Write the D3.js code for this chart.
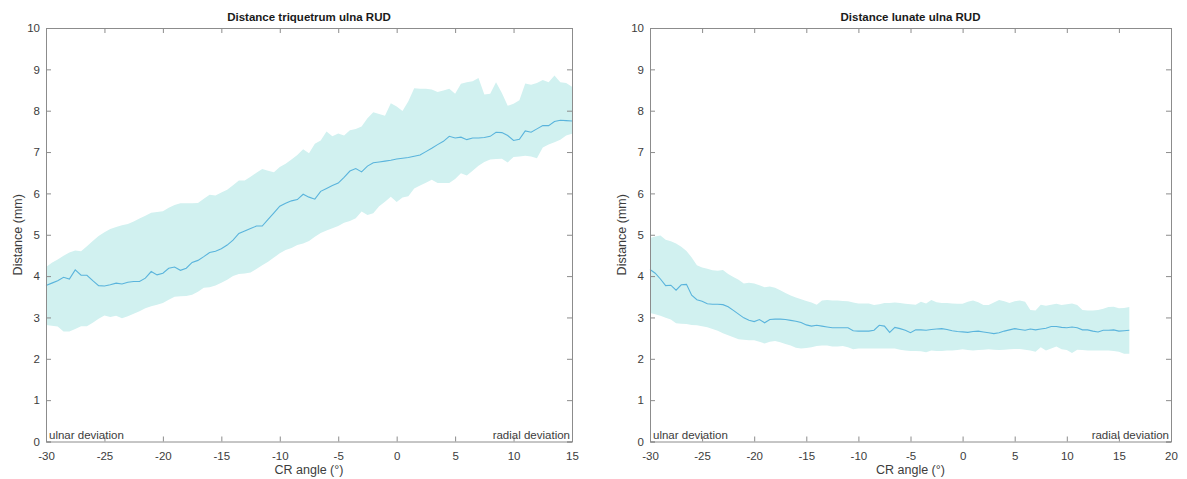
<!DOCTYPE html>
<html>
<head>
<meta charset="utf-8">
<script src="https://cdn.jsdelivr.net/npm/d3@7"></script>
<style>
  body { margin: 0; background: #fff; }
  svg { display: block; font-family: "Liberation Sans", Arial, sans-serif; }
</style>
</head>
<body>
<div id="content"></div>
<script>
// sample grid, 0.5 deg steps
const anglesLeft = d3.range(-30, 15.001, 0.5);
const anglesRight = d3.range(-30, 16.001, 0.5);

// Distance triquetrum ulna RUD (mm)
const triMean = [3.77,3.83,3.89,3.97,3.93,4.15,4.02,4.02,3.89,3.77,3.76,3.79,3.83,3.81,3.85,3.87,3.87,3.95,4.11,4.03,
  4.07,4.19,4.22,4.14,4.19,4.33,4.38,4.47,4.57,4.60,4.66,4.75,4.87,5.03,5.09,5.15,5.21,5.21,5.37,5.53,
  5.69,5.76,5.82,5.85,5.98,5.91,5.86,6.05,6.12,6.19,6.25,6.39,6.54,6.60,6.52,6.66,6.74,6.76,6.78,6.80,
  6.83,6.85,6.87,6.90,6.93,7.01,7.09,7.18,7.26,7.38,7.34,7.36,7.30,7.34,7.34,7.35,7.38,7.48,7.47,7.40,
  7.28,7.31,7.51,7.48,7.56,7.64,7.64,7.74,7.77,7.76,7.75];
const triUpper = [4.22,4.32,4.40,4.49,4.57,4.62,4.60,4.72,4.85,4.97,5.06,5.14,5.19,5.23,5.26,5.32,5.39,5.46,5.53,5.55,
  5.57,5.65,5.72,5.76,5.76,5.76,5.77,5.87,5.97,5.95,6.02,6.09,6.20,6.31,6.31,6.40,6.50,6.59,6.55,6.51,
  6.64,6.72,6.82,6.93,7.07,6.97,7.20,7.28,7.50,7.38,7.45,7.40,7.53,7.56,7.62,7.82,7.96,7.92,7.88,8.18,
  8.10,7.99,8.23,8.54,8.53,8.53,8.51,8.45,8.49,8.53,8.41,8.65,8.69,8.71,8.79,8.39,8.41,8.69,8.43,8.12,
  8.17,8.25,8.66,8.63,8.67,8.74,8.69,8.85,8.69,8.67,8.58];
const triLower = [2.82,2.80,2.78,2.66,2.66,2.72,2.79,2.79,2.87,2.97,3.05,3.01,3.04,2.98,3.03,3.09,3.15,3.22,3.27,3.31,
  3.35,3.43,3.50,3.51,3.52,3.55,3.62,3.72,3.73,3.77,3.84,3.91,4.00,4.05,4.06,4.09,4.17,4.26,4.35,4.45,
  4.55,4.63,4.68,4.75,4.79,4.85,4.95,5.04,5.10,5.16,5.21,5.29,5.33,5.40,5.56,5.48,5.52,5.69,5.80,5.92,
  5.79,5.90,5.93,6.12,6.19,6.26,6.33,6.25,6.25,6.25,6.35,6.49,6.43,6.55,6.67,6.76,6.82,6.83,6.84,6.75,
  6.88,6.89,6.91,6.89,6.85,7.11,7.18,7.24,7.30,7.40,7.44];

// Distance lunate ulna RUD (mm)
const lunMean = [4.16,4.07,3.93,3.77,3.78,3.66,3.79,3.80,3.54,3.43,3.39,3.33,3.32,3.32,3.31,3.26,3.17,3.08,2.99,2.93,
  2.90,2.95,2.87,2.95,2.96,2.96,2.95,2.93,2.91,2.88,2.82,2.79,2.81,2.79,2.77,2.75,2.75,2.75,2.75,2.68,
  2.67,2.67,2.67,2.69,2.81,2.79,2.64,2.76,2.73,2.69,2.63,2.70,2.70,2.69,2.71,2.72,2.73,2.71,2.68,2.66,
  2.65,2.64,2.66,2.67,2.65,2.63,2.61,2.63,2.67,2.70,2.73,2.71,2.69,2.72,2.70,2.72,2.74,2.78,2.78,2.76,
  2.75,2.77,2.75,2.70,2.70,2.67,2.65,2.69,2.69,2.70,2.67,2.68,2.69];
const lunUpper = [4.92,4.96,4.98,4.88,4.84,4.79,4.71,4.61,4.45,4.26,4.21,4.18,4.14,4.13,4.15,4.05,3.98,3.91,3.82,3.84,
  3.82,3.78,3.73,3.75,3.72,3.66,3.59,3.53,3.48,3.44,3.40,3.36,3.31,3.41,3.42,3.41,3.41,3.40,3.39,3.36,
  3.34,3.34,3.34,3.30,3.32,3.35,3.35,3.36,3.35,3.33,3.32,3.31,3.38,3.34,3.42,3.37,3.35,3.35,3.34,3.33,
  3.33,3.38,3.41,3.37,3.30,3.30,3.36,3.42,3.39,3.35,3.39,3.41,3.38,3.18,3.17,3.31,3.28,3.31,3.33,3.30,
  3.32,3.34,3.30,3.18,3.17,3.17,3.18,3.21,3.25,3.26,3.22,3.23,3.25];
const lunLower = [3.11,3.08,3.04,2.99,2.95,2.86,2.85,2.84,2.82,2.81,2.79,2.76,2.72,2.68,2.62,2.57,2.52,2.47,2.46,2.45,
  2.45,2.41,2.37,2.41,2.43,2.40,2.36,2.32,2.27,2.25,2.26,2.28,2.31,2.32,2.32,2.30,2.30,2.31,2.28,2.23,
  2.25,2.25,2.25,2.25,2.25,2.25,2.25,2.25,2.22,2.20,2.19,2.19,2.18,2.16,2.20,2.19,2.19,2.20,2.20,2.21,
  2.23,2.21,2.20,2.21,2.22,2.23,2.22,2.21,2.22,2.23,2.24,2.24,2.22,2.20,2.17,2.28,2.20,2.25,2.30,2.23,
  2.21,2.14,2.22,2.21,2.20,2.20,2.20,2.20,2.20,2.19,2.17,2.12,2.12];

const xTicksLeft = [-30,-25,-20,-15,-10,-5,0,5,10,15];
const xTicksRight = [-30,-25,-20,-15,-10,-5,0,5,10,15,20];
const yTicks = [0,1,2,3,4,5,6,7,8,9,10];

const svg = d3.select("#content").append("svg")
  .attr("width", 1187).attr("height", 479);

function drawPanel(cfg){
  const x = d3.scaleLinear().domain(cfg.xDomain).range([cfg.left, cfg.right]);
  const y = d3.scaleLinear().domain([0, 10]).range([441.5, 28]);
  const g = svg.append("g");

  const rows = cfg.angles.map((a, i) => ({a: a, m: cfg.mean[i], lo: cfg.lower[i], hi: cfg.upper[i]}));

  g.append("path")
    .datum(rows)
    .attr("fill", "#d1f1f0")
    .attr("d", d3.area().x(d => x(d.a)).y0(d => y(d.lo)).y1(d => y(d.hi)));

  g.append("path")
    .datum(rows)
    .attr("fill", "none")
    .attr("stroke", "#5ab4dc")
    .attr("stroke-width", 1.1)
    .attr("d", d3.line().x(d => x(d.a)).y(d => y(d.m)));

  const axisColor = "#8c8c8c";
  const tk = 5;
  const minusFmt = d => d < 0 ? "-" + Math.abs(d) : String(d);
  const axes = [
    d3.axisBottom(x).tickValues(cfg.xTicks).tickSize(-tk).tickFormat(minusFmt).tickPadding(10),
    d3.axisTop(x).tickValues(cfg.xTicks).tickSize(-tk).tickFormat(""),
    d3.axisLeft(y).tickValues(yTicks).tickSize(-tk).tickFormat(minusFmt).tickPadding(6),
    d3.axisRight(y).tickValues(yTicks).tickSize(-tk).tickFormat("")
  ];
  const pos = [
    `translate(0,${y(0)})`, `translate(0,${y(10)})`,
    `translate(${cfg.left},0)`, `translate(${cfg.right},0)`
  ];
  axes.forEach((ax, i) => {
    const a = g.append("g").attr("transform", pos[i]).call(ax);
    a.select(".domain").attr("stroke", axisColor);
    a.selectAll(".tick line").attr("stroke", axisColor);
    a.selectAll(".tick text").attr("fill", "#3c3c3c").style("font-size", "11.5px");
  });

  const cx = (cfg.left + cfg.right) / 2;
  g.append("text").attr("x", cx).attr("y", 21)
    .attr("text-anchor", "middle").style("font-size", "11.5px").style("font-weight", "bold")
    .attr("fill", "#1a1a1a").text(cfg.title);
  g.append("text").attr("x", cx).attr("y", 474)
    .attr("text-anchor", "middle").style("font-size", "12.5px").attr("fill", "#3c3c3c")
    .text("CR angle (°)");
  g.append("text").attr("transform", `translate(${cfg.left - 24},${y(5)}) rotate(-90)`)
    .attr("text-anchor", "middle").style("font-size", "12.5px").attr("fill", "#3c3c3c")
    .text("Distance (mm)");

  g.append("text").attr("x", cfg.left + 3).attr("y", y(0) - 3)
    .style("font-size", "11.5px").attr("fill", "#3c3c3c").text("ulnar deviation");
  g.append("text").attr("x", cfg.right - 2).attr("y", y(0) - 3)
    .attr("text-anchor", "end").style("font-size", "11.5px").attr("fill", "#3c3c3c").text("radial deviation");
}

drawPanel({
  title: "Distance triquetrum ulna RUD",
  left: 46, right: 572, xDomain: [-30, 15], xTicks: xTicksLeft,
  angles: anglesLeft, mean: triMean, upper: triUpper, lower: triLower
});
drawPanel({
  title: "Distance lunate ulna RUD",
  left: 650, right: 1171, xDomain: [-30, 20], xTicks: xTicksRight,
  angles: anglesRight, mean: lunMean, upper: lunUpper, lower: lunLower
});
</script>
</body>
</html>
